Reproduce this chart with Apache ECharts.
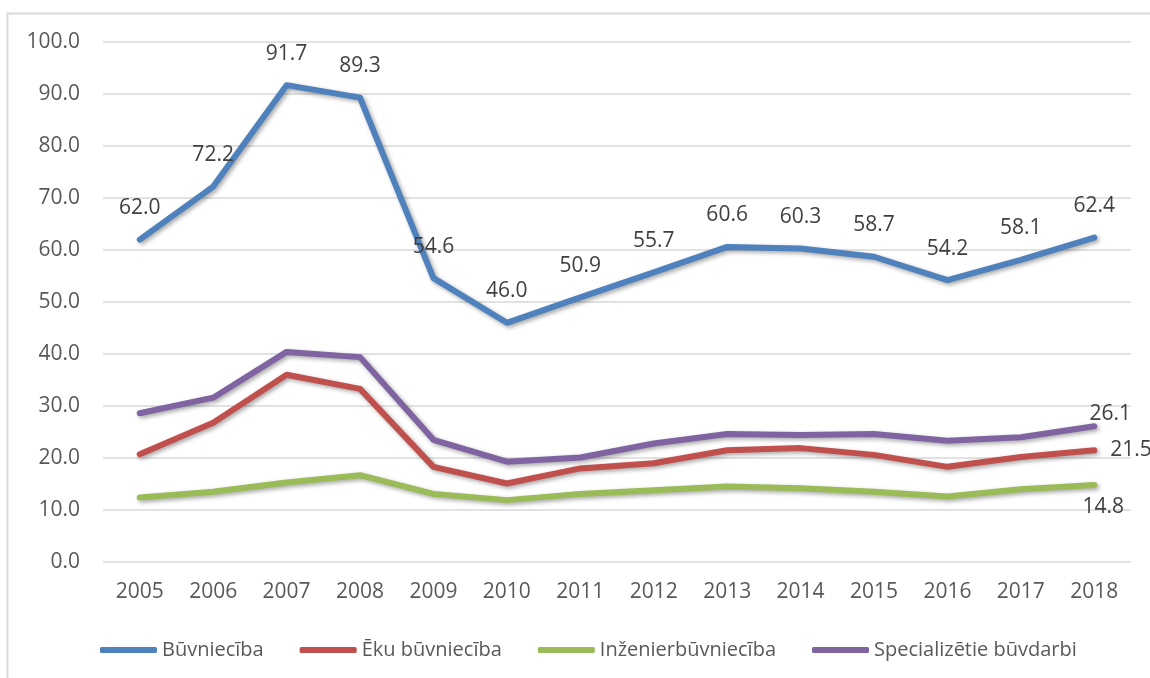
<!DOCTYPE html>
<html style="height: 100%">
<head>
    <meta charset="utf-8">
    <script src="https://cdn.jsdelivr.net/npm/echarts@6/dist/echarts.min.js"></script>
</head>
<body style="height: 100%; margin: 0; background: #fff">
<div id="container" style="width: 1150px; height: 678px"></div>
<script type="text/javascript">
    var years = ['2005', '2006', '2007', '2008', '2009', '2010', '2011', '2012', '2013', '2014', '2015', '2016', '2017', '2018'];
    var buvniecIba = [62.0, 72.2, 91.7, 89.3, 54.6, 46.0, 50.9, 55.7, 60.6, 60.3, 58.7, 54.2, 58.1, 62.4];
    var ekuBuvn = [20.7, 26.8, 36.0, 33.3, 18.3, 15.1, 18.0, 19.0, 21.5, 21.9, 20.6, 18.3, 20.2, 21.5];
    var inzenierBuvn = [12.4, 13.5, 15.3, 16.7, 13.1, 11.9, 13.1, 13.8, 14.5, 14.2, 13.5, 12.6, 14.0, 14.8];
    var specBuvdarbi = [28.6, 31.6, 40.4, 39.4, 23.5, 19.3, 20.1, 22.8, 24.6, 24.4, 24.6, 23.3, 24.0, 26.1];

    var font = 'Open Sans';
    var shadow = {shadowColor: 'rgba(0,0,0,0.35)', shadowBlur: 4, shadowOffsetX: 2, shadowOffsetY: 2};

    // only the last point of the smaller series carries a label
    function lastLabel(arr, label) {
        return arr.map(function (v, i) {
            if (i === arr.length - 1) return {value: v, label: label};
            return v;
        });
    }

    function line(name, color, data, label) {
        return {
            name: name,
            type: 'line',
            data: data,
            symbol: 'circle',
            symbolSize: 0,
            showSymbol: true,
            itemStyle: {color: color},
            lineStyle: Object.assign({color: color, width: 6, cap: 'round', join: 'round'}, shadow),
            label: label || {show: false}
        };
    }

    var labelText = {fontFamily: font, fontSize: 21, color: '#404040',
        formatter: function (p) { return Number(p.value).toFixed(1); }};

    var myChart = echarts.init(document.getElementById('container'));
    var option = {
        animation: false,
        textStyle: {fontFamily: font},
        graphic: [{
            type: 'rect',
            shape: {x: 7.5, y: 13.5, width: 1200, height: 700},
            style: {fill: 'none', stroke: '#D9D9D9', lineWidth: 2}
        }],
        grid: {left: 103, right: 19, top: 42, bottom: 116},
        legend: {
            left: 95,
            top: 635,
            icon: 'roundRect',
            itemWidth: 57,
            itemHeight: 6,
            itemGap: 36,
            textStyle: {fontFamily: font, fontSize: 20, color: '#595959'},
            data: ['Būvniecība', 'Ēku būvniecība', 'Inženierbūvniecība', 'Specializētie būvdarbi']
        },
        xAxis: {
            type: 'category',
            data: years,
            boundaryGap: true,
            axisLine: {show: false},
            axisTick: {show: false},
            axisLabel: {fontFamily: font, fontSize: 21, color: '#595959', margin: 20}
        },
        yAxis: {
            type: 'value',
            min: 0,
            max: 100,
            interval: 10,
            axisLabel: {fontFamily: font, fontSize: 21, color: '#595959', margin: 23,
                formatter: function (v) { return v.toFixed(1); }},
            splitLine: {lineStyle: {color: '#D9D9D9', width: 1.5}}
        },
        series: [
            line('Būvniecība', '#4F81BD', buvniecIba,
                Object.assign({show: true, position: 'top', distance: 21}, labelText)),
            line('Ēku būvniecība', '#C0504D',
                lastLabel(ekuBuvn, Object.assign({show: true, position: 'right', distance: 16}, labelText))),
            line('Inženierbūvniecība', '#9BBB59',
                lastLabel(inzenierBuvn, Object.assign({show: true, position: 'bottom', distance: 11, offset: [9, 0]}, labelText))),
            line('Specializētie būvdarbi', '#8064A2',
                lastLabel(specBuvdarbi, Object.assign({show: true, position: 'top', distance: 2, offset: [16, 0]}, labelText)))
        ]
    };
    myChart.setOption(option);
</script>
</body>
</html>
